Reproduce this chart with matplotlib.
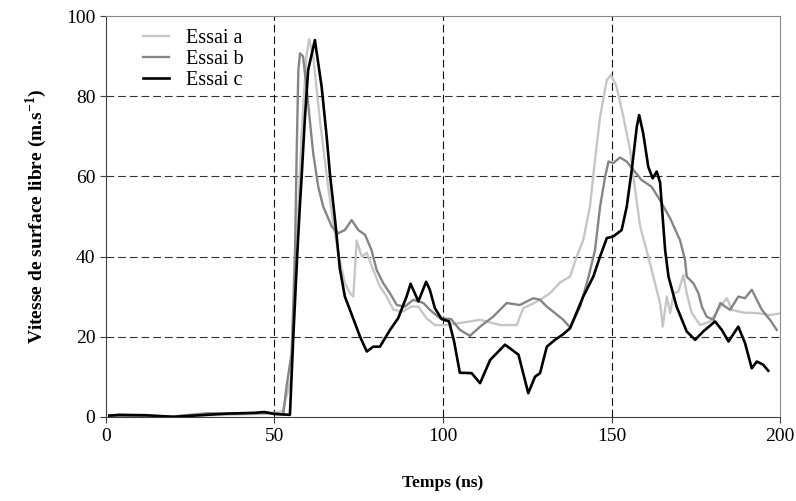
import matplotlib.pyplot as plt

plt.rcParams['font.family'] = ['Liberation Serif', 'DejaVu Serif']
plt.rcParams['mathtext.fontset'] = 'custom'
plt.rcParams['mathtext.rm'] = 'Liberation Serif'
plt.rcParams['mathtext.bf'] = 'Liberation Serif:bold'

# Essai a (gris clair)
t_a = [1, 10, 20, 30, 40, 50, 52.5, 55, 56.5, 58, 59.5, 60.3, 61.5, 63.5, 65.5, 67, 68.9,
       70.9, 72.4, 73.4, 74.4, 75.9, 77.4, 79.3, 81.3, 83.3, 85.3, 88.2, 90.5, 92.7, 95.1,
       97.6, 101, 105, 111, 117, 121.9, 123.8, 125.8, 128.8, 131.7, 134.7, 137.7, 139.7,
       141.6, 143.6, 145.1, 146.6, 148.6, 149.8, 151.5, 153.5, 155.5, 157, 158.5, 160.9,
       162.9, 164.4, 165.2, 166.4, 167.4, 168.4, 169.8, 171.3, 172.3, 173.8, 176.3, 179.3,
       182.3, 184.2, 185.7, 189.1, 193.1, 197, 200]
v_a = [0.2, 0.1, 0, 0.4, 0.6, 0.8, 1.5, 10, 40, 70, 90, 94.2, 90, 74, 60.3, 50.8, 40.9,
       33.4, 30.9, 30, 44, 40, 40.9, 36.7, 32.5, 30, 26.7, 26.3, 27.5, 27.5, 24.6,
       22.9, 22.9, 23.4, 24.2, 22.9, 22.9, 27.1, 27.9, 29.2, 30.8, 33.5, 35, 40,
       44.1, 52.4, 64.1, 74.9, 84, 85.3, 82.4, 74.9, 66.6, 56.6, 47.5, 40,
       33.3, 28.4, 22.5, 30, 25.9, 30.8, 31.2, 35.4, 30.8, 25.9, 22.9, 23.8,
       27.5, 29.6, 26.7, 26, 25.9, 25.4, 25.8]

# Essai b (gris foncé)
t_b = [1, 10, 20, 30, 40, 50, 52.6, 53.6, 55.1, 56.1, 56.6, 57.1, 57.6, 58.5, 59.5, 60.5,
       61.5, 63, 64.5, 67, 68.9, 70.9, 72.9, 74.9, 76.9, 78.8, 80.3, 82.3, 84.3, 86.3,
       88.7, 91.2, 94.2, 96.1, 99.1, 102.4, 105, 108, 111, 114.9, 118.9, 122.8, 126.8,
       128.8, 130.8, 133.2, 135.7, 137.7, 140.7, 143.2, 145.1, 146.6, 148.1, 149.1, 150.5,
       152.5, 154.5, 156.5, 158.9, 161.9, 164.4, 167.4, 170.3, 171.8, 172.3, 174.3, 175.8,
       176.8, 178.2, 180.2, 182.3, 183.7, 185.2, 187.6, 189.6, 191.6, 193.1, 194.6, 197, 199]
v_b = [0.3, 0.2, 0.1, 0.9, 0.8, 1.0, 0.5, 7.6, 15.9, 40.9, 65.8, 86.5, 90.7, 89.9, 82.4, 74,
       65.8, 57.4, 52.4, 47.5, 45.8, 46.6, 49.1, 46.6, 45.4, 41.6, 36.7, 33.3, 30.8, 27.9,
       27.5, 29.2, 28.4, 26.7, 24.6, 24.4, 21.7, 20.2, 22.5, 25, 28.4, 27.9, 29.6,
       29.2, 27.5, 25.9, 24.2, 22.3, 27.5, 35, 41.6, 52.4, 59.9, 63.7, 63.3,
       64.7, 63.7, 61.6, 59.1, 57.4, 54, 49.5, 44.1, 39.2, 35, 33.3, 30.8,
       27.5, 25, 24.2, 28.4, 27.5, 26.7, 30, 29.6, 31.7, 29.2, 26.7, 24.2, 21.7]

# Essai c (noir)
t_c = [1, 4, 12, 20, 32, 36, 40, 44, 47, 50, 54.6, 55.6, 56.8, 57.6, 58.1, 59, 60, 62,
       64, 65.5, 66.5, 68, 69.4, 70.9, 72.4, 75.4, 77.4, 79.3, 81.3, 84.3, 86.7, 89.2,
       90.4, 92.7, 95, 96.1, 97.6, 99.6, 101.8, 103.3, 105, 108.5, 111, 114, 118.4,
       122.4, 125.3, 127.3, 128.8, 130.8, 133.2, 135.5, 137.7, 141.6, 144.6, 146.6,
       148.6, 150.5, 153, 154.5, 156, 157.5, 158.2, 159.4, 160.9, 162.2, 163.4, 164.4,
       165.9, 166.9, 169.3, 172.3, 174.8, 177.2, 180.7, 182.7, 184.7, 187.6, 189.6,
       191.6, 193.1, 195, 196.5]
v_c = [0.3, 0.5, 0.4, 0, 0.6, 0.8, 0.9, 1.0, 1.2, 0.7, 0.5, 20, 40.9, 53.4, 60.3, 74, 86.5, 94,
       82.4, 69.9, 60.3, 49, 37, 30, 26.7, 20, 16.3, 17.5, 17.5, 21.7, 24.6, 30,
       33.2, 28.8, 33.7, 31.7, 27.1, 24.4, 23.8, 18.8, 11, 10.9, 8.4, 14.2, 18,
       15.5, 5.9, 10, 10.9, 17.5, 19.2, 20.5, 22.1, 30, 35, 40,
       44.6, 45, 46.6, 52.4, 61.6, 72.4, 75.3, 70.7, 62.4, 59.5, 61.2, 58.5,
       41.6, 35, 27.5, 21.3, 19.2, 21.3, 23.8, 21.7, 18.8, 22.5, 18.4,
       12.1, 13.8, 13, 11.5]

fig = plt.figure(figsize=(7.96, 5.01), dpi=100)
ax = fig.add_axes([0.133, 0.168, 0.847, 0.800])

ax.plot(t_a, v_a, color='#c6c6c6', linewidth=1.7, label='Essai a')
ax.plot(t_b, v_b, color='#858585', linewidth=1.7, label='Essai b')
ax.plot(t_c, v_c, color='black', linewidth=1.9, label='Essai c')

ax.set_xlim(0, 200)
ax.set_ylim(0, 100)
ax.set_xticks([0, 50, 100, 150, 200])
ax.set_yticks([0, 20, 40, 60, 80, 100])

# grille en tirets
for y in [20, 40, 60, 80]:
    ax.axhline(y, color='#333333', linewidth=0.8, linestyle=(0, (7, 3.5)), zorder=0)
for x in [50, 100, 150]:
    ax.axvline(x, color='#111111', linewidth=0.8, linestyle=(0, (7, 3.5)), zorder=0)

ax.spines['top'].set_color('#8a8a8a')
ax.spines['right'].set_color('#8a8a8a')
ax.spines['left'].set_color('#404040')
ax.spines['bottom'].set_color('#404040')
ax.tick_params(direction='out', length=4, width=0.8, labelsize=14, color='#404040')
ax.tick_params(axis='x', pad=4)

ax.set_xlabel('Temps (ns)', fontsize=12.5, fontweight='bold', labelpad=22)
ax.set_ylabel('Vitesse de surface libre (m.s$^{\\mathbf{-1}}$)', fontsize=14,
              fontweight='bold', labelpad=12)

ax.legend(loc='upper left', bbox_to_anchor=(0.036, 1.0), frameon=False, fontsize=14.5,
          handlelength=1.3, handletextpad=0.8, labelspacing=0.08, borderpad=0.15)

fig.savefig('out.png', dpi=100)
